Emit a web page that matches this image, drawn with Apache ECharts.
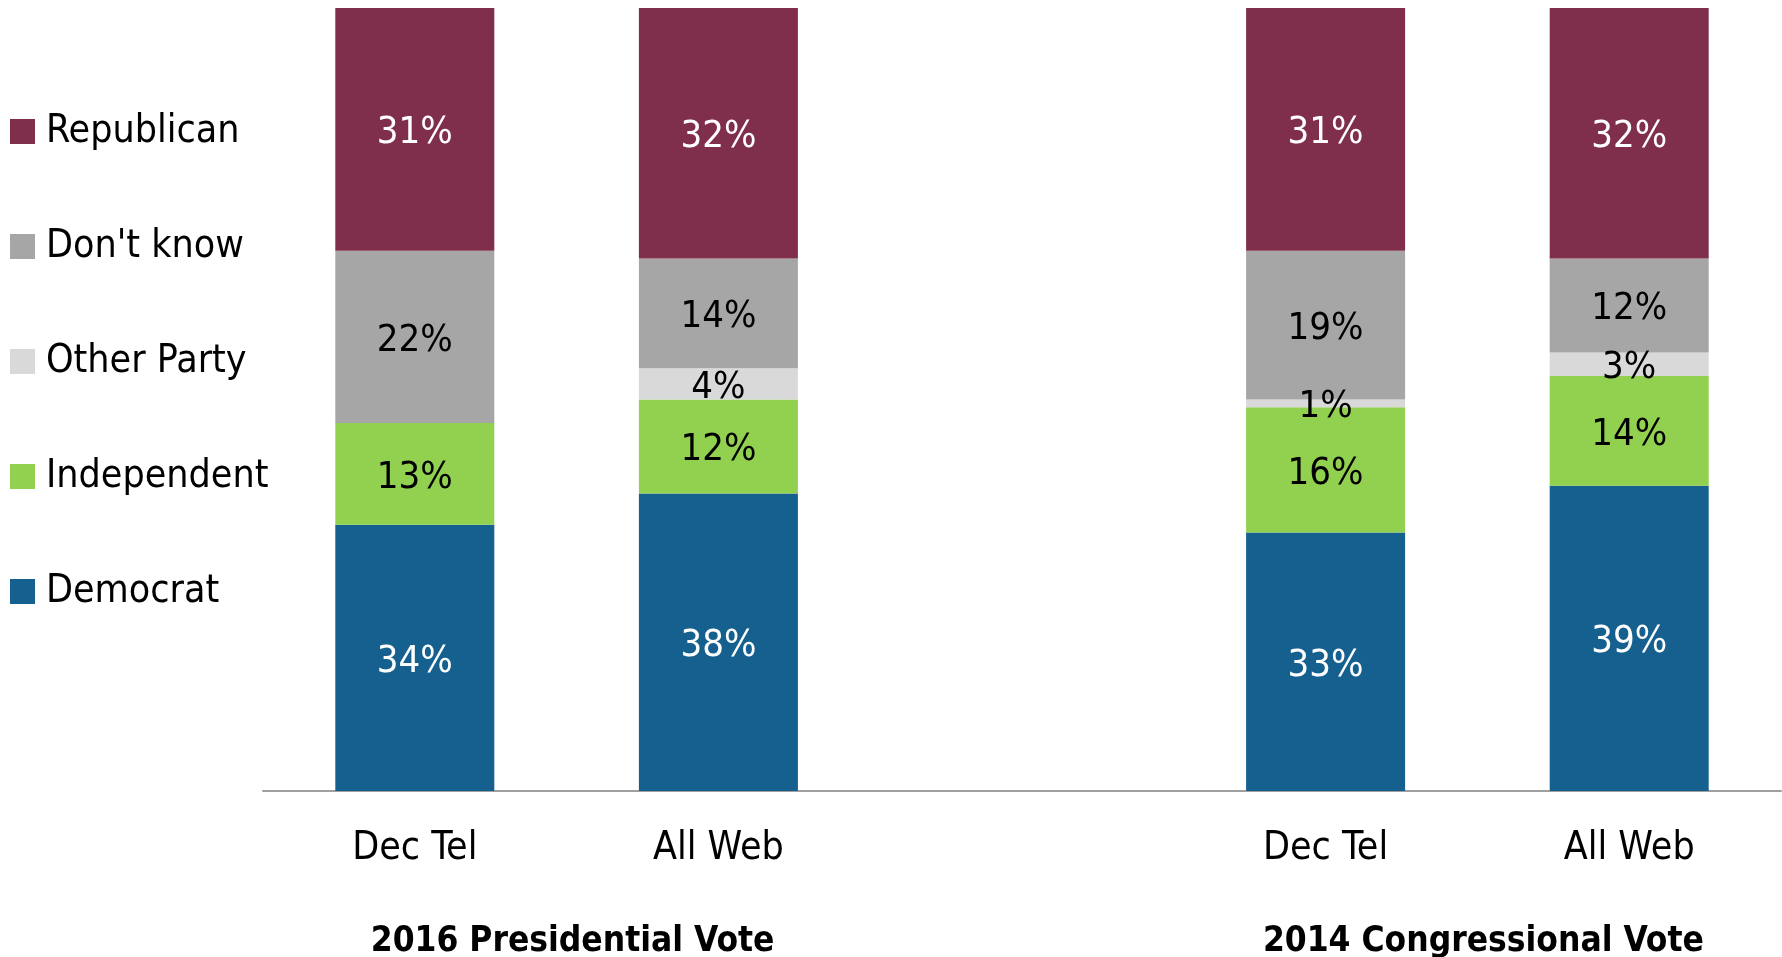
<!DOCTYPE html>
<html><head><meta charset="utf-8">
<script src="https://cdn.jsdelivr.net/npm/echarts@6/dist/echarts.min.js"></script>
<style>html,body{margin:0;padding:0;background:#fff}#c{width:1782px;height:957px}</style>
</head><body><div id="c"></div>
<script>
const categories = ['Dec Tel', 'All Web', '', 'Dec Tel', 'All Web'];
const groupLabels = ['2016 Presidential Vote', '2014 Congressional Vote'];
const groupMembers = [[0, 1], [3, 4]];
const seriesNames = ['Democrat', 'Independent', 'Other Party', "Don't know", 'Republican'];
const democrat = [34, 38, null, 33, 39];
const independent = [13, 12, null, 16, 14];
const otherParty = [0, 4, null, 1, 3];
const dontKnow = [22, 14, null, 19, 12];
const republican = [31, 32, null, 31, 32];
const legendOrder = ['Republican', "Don't know", 'Other Party', 'Independent', 'Democrat'];

const FONT = "'Liberation Sans Narrow', 'DejaVu Sans Condensed', 'Liberation Sans', sans-serif";
const colors = ['#15608F', '#92D050', '#D9D9D9', '#A6A6A6', '#7F2E4C'];
const labelColors = ['#ffffff', '#000000', '#000000', '#000000', '#ffffff'];
const values = [democrat, independent, otherParty, dontKnow, republican];

const chart = echarts.init(document.getElementById('c'), null, {renderer: 'canvas'});
const series = seriesNames.map((name, i) => ({
  name: name,
  type: 'bar',
  stack: 'total',
  barWidth: 159,
  data: values[i],
  itemStyle: {color: colors[i]},
  label: {
    show: true,
    position: 'inside',
    offset: [0, 4],
    color: labelColors[i],
    fontFamily: FONT,
    fontSize: 38,
    formatter: p => (p.value ? p.value + '%' : '')
  },
  emphasis: {disabled: true}
}));

chart.setOption({
  animation: false,
  backgroundColor: '#ffffff',
  grid: {left: 263, right: 1, top: 8, bottom: 166, containLabel: false},
  legend: {
    data: legendOrder,
    orient: 'vertical',
    left: 5,
    top: 107,
    itemWidth: 25,
    itemHeight: 25,
    itemGap: 76,
    icon: 'rect',
    selectedMode: false,
    textStyle: {fontFamily: FONT, fontSize: 39, color: '#000', padding: [0, 0, 0, 6]}
  },
  xAxis: {
    type: 'category',
    data: categories,
    axisLine: {lineStyle: {color: '#A0A0A0', width: 2}},
    axisTick: {show: false},
    axisLabel: {fontFamily: FONT, fontSize: 39, color: '#000', margin: 38}
  },
  yAxis: {
    type: 'value',
    min: 0,
    max: 100,
    show: false
  },
  series: series
});

const gfx = groupLabels.map((txt, g) => {
  const a = chart.convertToPixel({xAxisIndex: 0}, groupMembers[g][0]);
  const b = chart.convertToPixel({xAxisIndex: 0}, groupMembers[g][1]);
  return {
    type: 'text',
    x: (a + b) / 2 + 6,
    y: 942,
    style: {
      text: txt,
      fontFamily: FONT,
      fontSize: 35,
      fontWeight: 'bold',
      fill: '#000',
      align: 'center',
      verticalAlign: 'middle'
    }
  };
});
chart.setOption({graphic: gfx});
</script>
</body></html>
